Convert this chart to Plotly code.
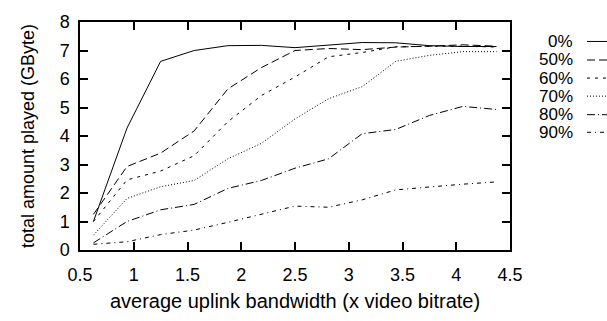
import plotly.graph_objects as go

# ---- data ----
bandwidth = [0.625, 0.9375, 1.25, 1.5625, 1.875, 2.1875, 2.5, 2.8125, 3.125, 3.4375, 3.75, 4.0625, 4.375]
series_names = ["0%", "50%", "60%", "70%", "80%", "90%"]
played_0 = [1.0, 4.28, 6.62, 7.0, 7.17, 7.18, 7.1, 7.2, 7.28, 7.27, 7.17, 7.14, 7.14]
played_50 = [1.25, 2.93, 3.4, 4.18, 5.65, 6.4, 7.0, 7.07, 7.03, 7.12, 7.15, 7.2, 7.15]
played_60 = [1.0, 2.46, 2.77, 3.31, 4.5, 5.42, 6.07, 6.78, 6.93, 7.13, 7.15, 7.15, 7.12]
played_70 = [0.52, 1.81, 2.22, 2.44, 3.2, 3.74, 4.6, 5.31, 5.73, 6.62, 6.83, 6.96, 6.96]
played_80 = [0.25, 1.0, 1.41, 1.6, 2.16, 2.44, 2.87, 3.2, 4.08, 4.23, 4.72, 5.04, 4.93]
played_90 = [0.2, 0.29, 0.54, 0.7, 0.97, 1.25, 1.54, 1.5, 1.76, 2.11, 2.22, 2.31, 2.39]
x_ticks = [0.5, 1, 1.5, 2, 2.5, 3, 3.5, 4, 4.5]
y_ticks = [0, 1, 2, 3, 4, 5, 6, 7, 8]

all_series = [played_0, played_50, played_60, played_70, played_80, played_90]
dashes = ["solid", "8px,4px", "3px,5px", "1px,2px", "8px,3px,1px,3px", "4px,4px,1px,4px"]

FONT = "Liberation Sans, Arial, sans-serif"
W, H = 607, 321
L, R, T, B = 80, 97, 12, 63

fig = go.Figure()
for name, ys, dash in zip(series_names, all_series, dashes):
    fig.add_trace(go.Scatter(x=bandwidth, y=ys, mode="lines", name=name,
                             line=dict(color="black", width=1, dash=dash),
                             showlegend=False))

# legend drawn gnuplot-style: right-aligned text, sample line to the right
leg_y_px = [33, 53, 72.5, 92, 112, 131]
plot_h = H - T - B
plot_w = W - L - R
for name, dash, ypx in zip(series_names, dashes, leg_y_px):
    yp = (H - B - ypx) / plot_h
    fig.add_annotation(x=(574 - L) / plot_w, y=yp, xref="paper", yref="paper",
                       text=name, showarrow=False, xanchor="right", yanchor="middle",
                       borderpad=0, font=dict(family=FONT, size=17, color="black"))
    fig.add_shape(type="line", xref="paper", yref="paper",
                  x0=(587 - L) / plot_w, x1=(625 - L) / plot_w, y0=yp, y1=yp,
                  line=dict(color="black", width=1, dash=dash))

axis_common = dict(showline=True, mirror="ticks", linecolor="black", linewidth=1.5,
                   ticks="inside", ticklen=8, tickwidth=1.5, tickcolor="black",
                   showgrid=False, zeroline=False,
                   tickfont=dict(family=FONT, size=18, color="black"))
fig.update_xaxes(range=[0.5, 4.5], tickvals=x_ticks, ticktext=[f"{v:g}" for v in x_ticks],
                 ticklabelstandoff=8,
                 title=dict(text="average uplink bandwidth (x video bitrate)",
                            font=dict(family=FONT, size=20, color="black"), standoff=10),
                 **axis_common)
fig.update_yaxes(range=[0, 8], tickvals=y_ticks, ticklabelstandoff=5,
                 title=dict(text="total amount played (GByte)",
                            font=dict(family=FONT, size=18, color="black"), standoff=20),
                 **axis_common)

fig.update_layout(width=W, height=H, margin=dict(l=L, r=R, t=T, b=B),
                  paper_bgcolor="white", plot_bgcolor="white")

fig.write_html("out.html")
